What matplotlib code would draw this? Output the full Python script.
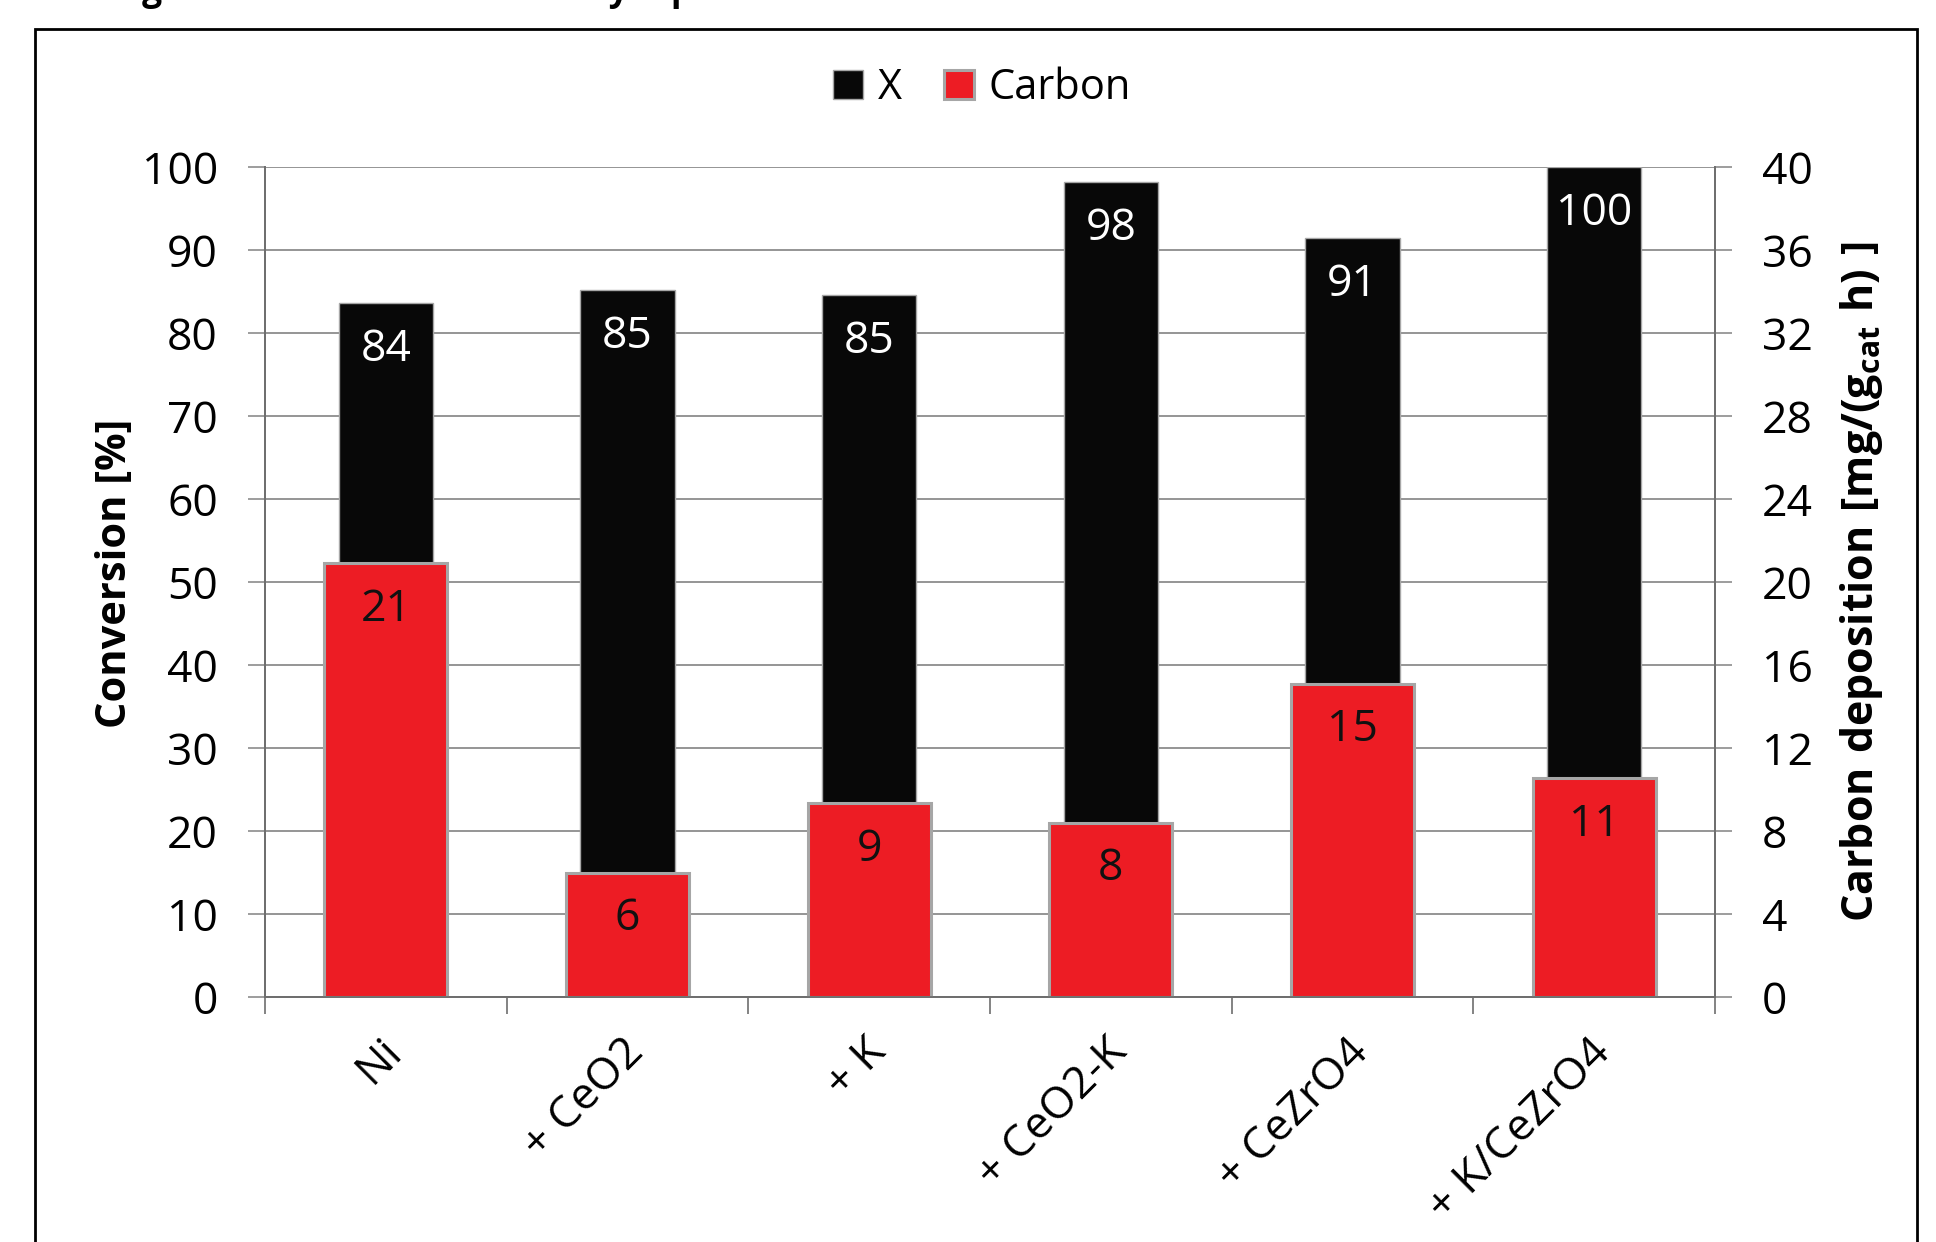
import numpy as np
import matplotlib
matplotlib.use('Agg')
import matplotlib.pyplot as plt
import matplotlib.patches as patches
import matplotlib.transforms as mtransforms

plt.rcParams['font.family'] = ['Open Sans', 'DejaVu Sans']
plt.rcParams['mathtext.fontset'] = 'custom'
plt.rcParams['mathtext.rm'] = 'Open Sans:bold'
plt.rcParams['mathtext.it'] = 'Open Sans:bold'
plt.rcParams['mathtext.bf'] = 'Open Sans:bold'

# data
catalysts = ['Ni', '+ CeO2', '+ K', '+ CeO2-K', '+ CeZrO4', '+ K/CeZrO4']
conversion = [83.6, 85.2, 84.6, 98.2, 91.4, 100.0]      # X, left axis [%]
carbon = [20.9, 6.0, 9.35, 8.4, 15.1, 10.55]           # right axis [mg/(g_cat h)]

red = '#ED1C24'
edge_gray = '#A6A6A6'
grid_gray = '#8C8C8C'
axis_gray = '#6E6E6E'

fig = plt.figure(figsize=(19.36, 12.42), dpi=100)
ax = fig.add_axes([265/1936, 1 - 997/1242, 1450/1936, 830/1242])
ax2 = ax.twinx()

x = np.arange(len(catalysts))

# conversion bars (black, narrow)
bars_x = ax.bar(x, conversion, width=0.39, color='#080808', edgecolor=edge_gray,
                linewidth=1.0, zorder=2, label='X')
# carbon deposition bars (red, wider, on the secondary axis)
bars_c = ax2.bar(x, carbon, width=0.51, color=red, edgecolor=edge_gray,
                 linewidth=2.2, zorder=2, label='Carbon')

for b, v in zip(bars_x, conversion):
    ax.annotate(f'{v:.0f}', (b.get_x() + b.get_width()/2, v), xytext=(0, -33.5),
                textcoords='offset points', ha='center', va='center',
                color='white', fontsize=32, zorder=5)
for b, v in zip(bars_c, carbon):
    ax2.annotate(f'{v:.0f}', (b.get_x() + b.get_width()/2, v), xytext=(0, -33.5),
                 textcoords='offset points', ha='center', va='center',
                 color='#111111', fontsize=32, zorder=5)

ax.set_xlim(-0.5, len(catalysts) - 0.5)
ax.set_ylim(0, 100)
ax2.set_ylim(0, 40)
ax.set_yticks(np.arange(0, 101, 10))
ax2.set_yticks(np.arange(0, 41, 4))

ax.yaxis.grid(True, color=grid_gray, linewidth=1.3)
ax.set_axisbelow(True)

# category separators as major ticks, names on minor ticks
ax.set_xticks(np.arange(-0.5, len(catalysts), 1.0))
ax.set_xticklabels([])
ax.set_xticks(x, minor=True)
ax.set_xticklabels(catalysts, minor=True, rotation=45, ha='right', va='center',
                   rotation_mode='anchor', fontsize=32)
ax.tick_params(axis='x', which='major', length=12, width=1.2, color=axis_gray)
ax.tick_params(axis='x', which='minor', length=0, pad=35)
shift = mtransforms.ScaledTranslation(10/100, 0, fig.dpi_scale_trans)
for lab in ax.get_xticklabels(minor=True):
    lab.set_transform(lab.get_transform() + shift)

ax.tick_params(axis='y', length=12, width=1.2, color=grid_gray, labelsize=32, pad=22)
ax2.tick_params(axis='y', length=12, width=1.2, color=grid_gray, labelsize=32, pad=22)

for a in (ax, ax2):
    a.spines['top'].set_visible(False)
    for s in ('left', 'right', 'bottom'):
        a.spines[s].set_color(axis_gray)
        a.spines[s].set_linewidth(1.3)

ax.set_ylabel('Conversion [%]', fontsize=30, fontweight='bold')
ax.yaxis.set_label_coords(-0.089, 0.51)
ax2.set_ylabel(r'$\mathrm{Carbon\ deposition\ [mg/(g_{cat}\ h)\ ]}$', fontsize=31)
ax2.yaxis.set_label_coords(1.085, 0.5)

h1, l1 = ax.get_legend_handles_labels()
h2, l2 = ax2.get_legend_handles_labels()
fig.legend(h1 + h2, l1 + l2, loc='center', bbox_to_anchor=(982/1936, 1 - 88/1242),
           ncol=2, frameon=False, fontsize=30, handlelength=0.72, handleheight=0.72,
           handletextpad=0.35, columnspacing=1.0)

# outer frame of the figure panel
frame = patches.Rectangle((35/1936, -0.1), (1917 - 35)/1936, 1.1 - 29/1242,
                          transform=fig.transFigure, fill=False, edgecolor='black',
                          linewidth=2.0, clip_on=False)
fig.patches.append(frame)

# caption above the panel, cut off by the page edge
fig.text(112/1936, 1.0, 'Figure 6: Results of the catalyst promoter tests',
         fontsize=25.5, fontweight='bold', va='baseline', ha='left')

fig.savefig('out.png', dpi=100)
